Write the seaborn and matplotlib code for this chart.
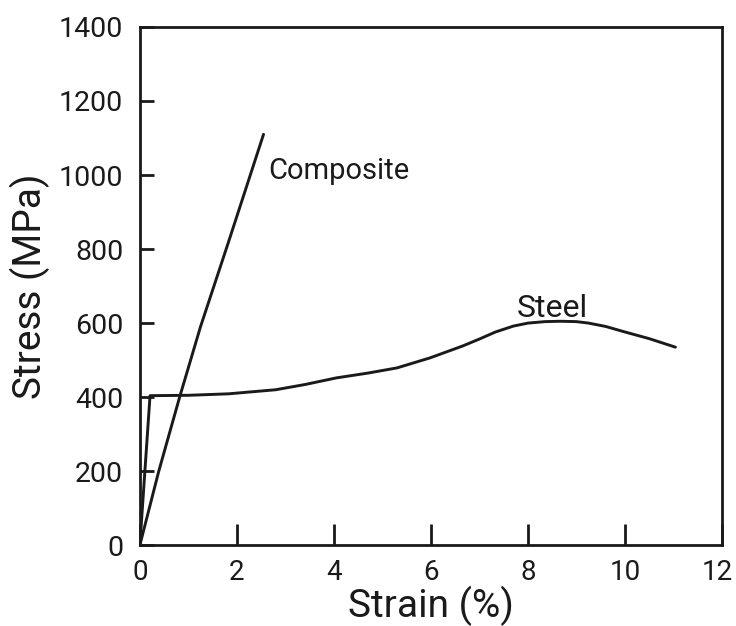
import matplotlib
matplotlib.use("Agg")
import matplotlib.pyplot as plt
import matplotlib.transforms as mtransforms
import pandas as pd
import seaborn as sns

# Stress-strain curves (strain in %, stress in MPa)
composite_strain = [0.0, 0.39, 0.82, 1.25, 1.83, 2.55]
composite_stress = [0, 200, 400, 590, 820, 1110]

steel_strain = [0.0, 0.21, 1.0, 1.83, 2.8, 3.4, 4.05, 4.7, 5.3, 5.98, 6.65,
                7.0, 7.33, 7.7, 8.0, 8.35, 8.67, 9.0, 9.25, 9.6, 10.0, 10.5, 11.04]
steel_stress = [0, 404, 405, 409, 420, 434, 452, 465, 479, 506, 538,
                557, 576, 592, 600, 604, 605, 604, 600, 591, 576, 558, 535]

x_ticks = [0, 2, 4, 6, 8, 10, 12]
y_ticks = [0, 200, 400, 600, 800, 1000, 1200, 1400]

df = pd.concat([
    pd.DataFrame({"Strain": composite_strain, "Stress": composite_stress, "Material": "Composite"}),
    pd.DataFrame({"Strain": steel_strain, "Stress": steel_stress, "Material": "Steel"}),
], ignore_index=True)

sns.set_theme(style="ticks")
plt.rcParams["font.family"] = ["Roboto", "DejaVu Sans"]

ink = "#1a1a1a"

fig = plt.figure(figsize=(7.36, 6.26), dpi=100)
ax = fig.add_axes([0.190, 0.129, 0.791, 0.828])

sns.lineplot(data=df, x="Strain", y="Stress", units="Material", estimator=None,
             sort=False, color=ink, linewidth=2.1, ax=ax)

ax.set_xlim(0, 12)
ax.set_ylim(0, 1400)
ax.set_xticks(x_ticks)
ax.set_yticks(y_ticks)
ax.set_xticklabels([str(v) for v in x_ticks], fontsize=20)
ax.set_yticklabels([str(v) for v in y_ticks], fontsize=20.5)
ax.tick_params(axis="x", direction="in", length=15, width=2.0, pad=10, colors=ink)
ax.tick_params(axis="y", direction="in", length=10, width=2.0, pad=12, colors=ink)

# nudge the last x tick label so it stays inside the canvas
last = ax.get_xticklabels()[-1]
last.set_transform(last.get_transform() +
                   mtransforms.ScaledTranslation(-5 / 100, 0, fig.dpi_scale_trans))

for side in ["left", "right", "top", "bottom"]:
    ax.spines[side].set_visible(True)
    ax.spines[side].set_linewidth(2.0)
    ax.spines[side].set_color(ink)

ax.set_xlabel("Strain (%)", fontsize=28, color=ink, labelpad=0)
ax.set_ylabel("Stress (MPa)", fontsize=28, color=ink, labelpad=6)

ax.text(2.65, 990, "Composite", fontsize=21, color=ink, va="baseline", ha="left")
ax.text(8.5, 616, "Steel", fontsize=23, color=ink, va="baseline", ha="center")

fig.savefig("out.png", dpi=100, facecolor="white")
